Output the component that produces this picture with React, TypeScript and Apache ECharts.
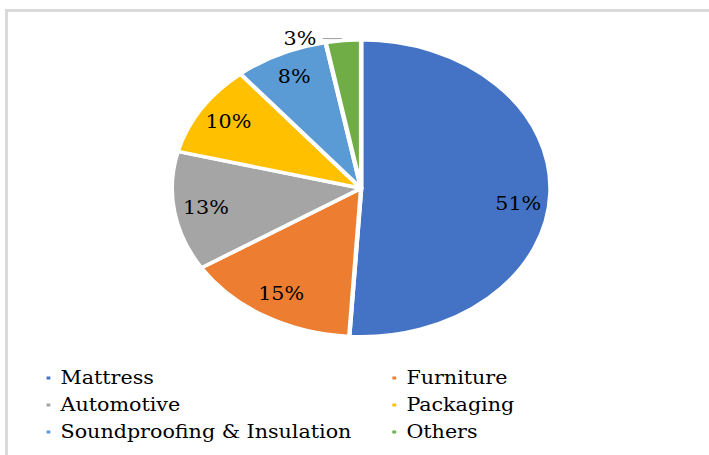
import React, { useEffect, useRef } from "react";
import * as echarts from "echarts";

const categories = ["Mattress", "Furniture", "Automotive", "Packaging", "Soundproofing & Insulation", "Others"];
const shares = [51, 15, 13, 10, 8, 3];
const colors = ["#4472C4", "#ED7D31", "#A5A5A5", "#FFC000", "#5B9BD5", "#70AD47"];
const legendLeft = ["Mattress", "Automotive", "Soundproofing & Insulation"];
const legendRight = ["Furniture", "Packaging", "Others"];

const W = 709;
const H = 455;
const INNER_W = 556;
const SX = W / INNER_W;
const FONT = "DejaVu Serif Condensed";

export default function App() {
  const ref = useRef<HTMLDivElement>(null);
  useEffect(() => {
    if (!ref.current) return;
    const chart = echarts.init(ref.current, null, { renderer: "svg" });
    const legendCommon = {
      orient: "vertical",
      icon: "rect",
      itemWidth: 5,
      itemHeight: 5,
      itemGap: 7,
      padding: 0,
      selectedMode: false,
      top: 368,
      textStyle: { fontFamily: FONT, fontSize: 18, lineHeight: 20, color: "#000", padding: [0, 0, 0, 2] },
    };
    chart.setOption({
      animation: false,
      backgroundColor: "transparent",
      legend: [
        { ...legendCommon, left: 34.5, data: legendLeft },
        { ...legendCommon, left: 305.7, data: legendRight },
      ],
      series: [
        {
          type: "pie",
          center: [283.2, 188.3],
          radius: [0, 148.5],
          startAngle: 90,
          clockwise: true,
          avoidLabelOverlap: false,
          label: { show: false },
          labelLine: { show: false },
          itemStyle: { borderColor: "#fff", borderWidth: 3.5 },
          data: categories.map((c, i) => ({ name: c, value: shares[i], itemStyle: { color: colors[i] } })),
        },
        {
          type: "pie",
          silent: true,
          legendHoverLink: false,
          center: [283.2, 188.3],
          radius: [94, 146.5],
          startAngle: 90,
          clockwise: true,
          avoidLabelOverlap: false,
          itemStyle: { color: "rgba(0,0,0,0)" },
          label: {
            show: true,
            position: "inside",
            formatter: "{c}%",
            fontFamily: FONT,
            fontSize: 18,
            color: "#000",
          },
          labelLine: { show: false },
          labelLayout: (p: any) => (p.dataIndex === 0 ? { dy: 12 } : {}),
          data: categories.map((c, i) =>
            i === categories.length - 1
              ? {
                  name: c,
                  value: shares[i],
                  label: { position: "outside", distance: 4 },
                  labelLine: { show: true, length: 4, length2: 16, smooth: true, lineStyle: { color: "#A6A6A6", width: 1 } },
                }
              : { name: c, value: shares[i] }
          ),
        },
      ],
    });
    return () => chart.dispose();
  }, []);

  return (
    <div style={{ position: "fixed", left: 0, top: 0, width: W, height: H, background: "#fff", overflow: "hidden" }}>
      <div
        style={{
          position: "absolute",
          left: 5,
          top: 9,
          width: W + 20,
          height: H + 20,
          borderTop: "3px solid #DADADA",
          borderLeft: "3px solid #DADADA",
        }}
      />
      <div
        ref={ref}
        style={{
          position: "absolute",
          left: 0,
          top: 0,
          width: INNER_W,
          height: H,
          transform: `scaleX(${SX})`,
          transformOrigin: "0 0",
        }}
      />
    </div>
  );
}
